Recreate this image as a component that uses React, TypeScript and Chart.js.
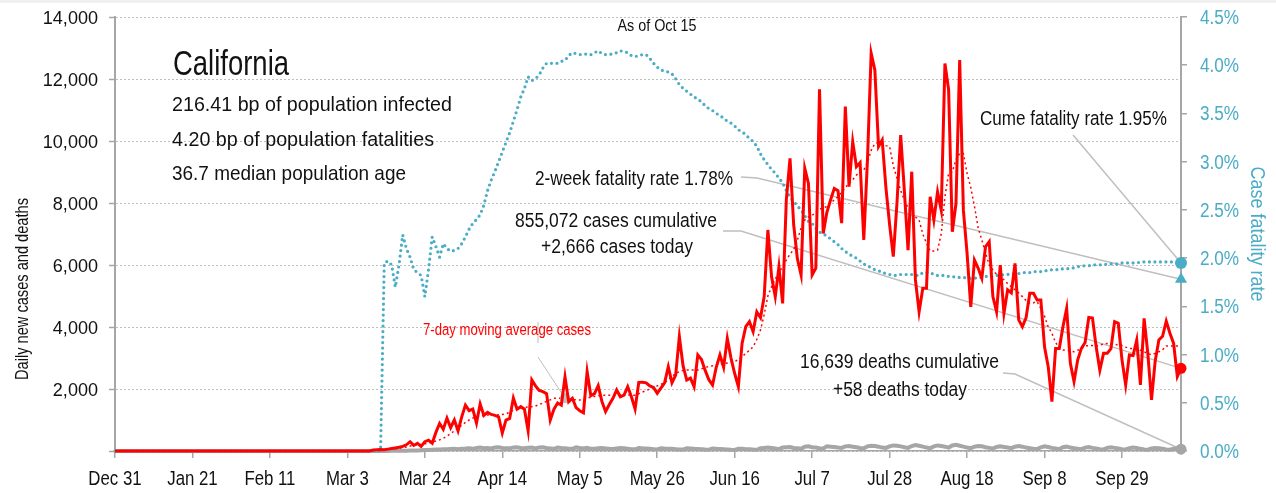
import React, { useEffect, useRef } from 'react';
import { Chart, registerables } from 'chart.js';

Chart.register(...registerables);

const FONT = '"Liberation Sans", Arial, sans-serif';
const TEAL = '#4bacc6';
const RED = '#ff0000';
const GRAY = '#a6a6a6';
const LEADER = '#bfbfbf';
const INK = '#111111';

// Day index 0 = Dec 31, last index 289 = Oct 15
const xTickDays = [0, 21, 42, 63, 84, 105, 126, 147, 168, 189, 210, 231, 252, 273];
const xTickLabels = ['Dec 31', 'Jan 21', 'Feb 11', 'Mar 3', 'Mar 24', 'Apr 14', 'May 5', 'May 26', 'Jun 16', 'Jul 7', 'Jul 28', 'Aug 18', 'Sep 8', 'Sep 29'];
const leftTicks = [0, 2000, 4000, 6000, 8000, 10000, 12000, 14000];
const rightTicks = [0, 0.5, 1, 1.5, 2, 2.5, 3, 3.5, 4, 4.5];

const zeros = (n: number) => Array(n).fill(0);

// Daily new cases (left axis)
const dailyCases = [
  ...zeros(70),
  30, 40, 50, 40, 60, 80, 100, 120, 150, 200,
  300, 180, 250, 150, 300, 350, 250, 600, 890, 700,
  1060, 750, 1000, 650, 1100, 1480, 1300, 1350, 900, 1515,
  1150, 1250, 1180, 1150, 1100, 580, 1000, 1050, 1710, 1350,
  1430, 1350, 655, 2290, 2100, 1950, 1915, 1850, 1000, 1350,
  1550, 1480, 2390, 1590, 1700, 1400, 1300, 1235, 2560, 1785,
  1850, 2110, 1600, 1270, 1500, 1700, 1970, 1750, 1800, 2075,
  1750, 1355, 2215, 2220, 2200, 2100, 2050, 1860, 2030, 2200,
  2720, 2200, 2450, 3690, 2750, 2290, 2350, 2075, 3100, 2950,
  2600, 2300, 2130, 2700, 3100, 2700, 3635, 3000, 2500, 2075,
  3470, 4010, 4170, 3850, 4490, 4300, 4980, 7130, 5620, 4980,
  5945, 4760, 8100, 9440, 7290, 6200, 5680, 9120, 8630, 5680,
  5900, 11670, 7020, 7700, 8100, 8470, 8400, 7350, 11110, 8530,
  9980, 9170, 9300, 6810, 9390, 12830, 12290, 9820, 10030, 8500,
  7300, 6270, 8000, 10190, 8400, 6480, 9010, 5520, 4490, 5250,
  5250, 8200, 7450, 8360, 7770, 12500, 11650, 7070, 7990, 12610,
  7770, 6380, 4650, 6160, 5900, 5570, 6590, 6750, 4980, 4490,
  6000, 4440, 5200, 5100, 6050, 4230, 4010, 4300, 5090, 5090,
  4870, 4870, 3360, 2720, 1590, 3310, 3310, 4010, 4600, 2830,
  2240, 2940, 3310, 3500, 4310, 4290, 3360, 2610, 3150, 3150,
  3300, 4170, 4120, 2940, 2130, 3100, 3080, 3580, 2130, 4280,
  3150, 1650, 2900, 3580, 3700, 4190, 3800, 3470, 2400, 2666,
];

// 7-day moving average of cases (left axis)
const casesMovingAvg = [
  ...zeros(70),
  20, 30, 40, 40, 50, 60, 70, 90, 110, 130,
  160, 180, 190, 210, 230, 260, 290, 320, 360, 410,
  480, 560, 650, 740, 830, 920, 1000, 1060, 1100, 1130,
  1150, 1160, 1160, 1160, 1170, 1180, 1200, 1250, 1320, 1350,
  1380, 1400, 1420, 1430, 1450, 1500, 1550, 1600, 1650, 1700,
  1700, 1700, 1700, 1680, 1660, 1650, 1645, 1660, 1700, 1740,
  1760, 1780, 1800, 1800, 1800, 1800, 1800, 1800, 1800, 1810,
  1800, 1800, 1850, 1900, 1950, 2000, 2050, 2100, 2150, 2200,
  2300, 2400, 2500, 2560, 2600, 2610, 2610, 2610, 2610, 2650,
  2700, 2720, 2750, 2770, 2800, 2820, 2840, 2860, 2880, 2950,
  3040, 3150, 3250, 3360, 3600, 3900, 4400, 5000, 5300, 5550,
  5750, 5950, 6160, 6350, 6500, 6800, 7200, 7450, 7550, 7600,
  7700, 7800, 7850, 7880, 8000, 8100, 8200, 8350, 8500, 8630,
  8750, 8900, 9000, 9060, 9300, 9700, 9920, 9950, 9900, 9850,
  9820, 9200, 8800, 8400, 8100, 7850, 7700, 7550, 7450, 7000,
  6700, 6450, 6450, 6480, 7000, 8200, 8960, 9000, 9400, 9600,
  9600, 8960, 8500, 7900, 7200, 6810, 6400, 6000, 5840, 5700,
  5600, 5520, 5400, 5300, 5200, 5100, 4980, 4850, 4760, 4780,
  4820, 4600, 4350, 4000, 3800, 3500, 3320, 3260, 3250, 3220,
  3200, 3250, 3300, 3390, 3400, 3400, 3390, 3420, 3450, 3470,
  3460, 3440, 3420, 3400, 3350, 3310, 3310, 3300, 3250, 3200,
  3150, 3100, 3150, 3200, 3260, 3390, 3390, 3390, 3390, 3380,
];

// Daily deaths (left axis)
const dailyDeaths = [
  ...zeros(70),
  1, 2, 2, 3, 4, 5, 6, 8, 10, 12,
  15, 18, 20, 25, 30, 35, 40, 45, 50, 55,
  60, 65, 70, 60, 75, 80, 90, 70, 100, 110,
  90, 95, 80, 110, 120, 100, 90, 85, 115, 120,
  95, 90, 105, 110, 80, 115, 120, 100, 85, 70,
  110, 95, 90, 75, 70, 115, 95, 85, 100, 70,
  75, 90, 100, 85, 70, 65, 80, 95, 90, 75,
  60, 55, 95, 85, 80, 70, 60, 50, 90, 80,
  75, 70, 60, 50, 45, 85, 80, 70, 65, 55,
  45, 40, 80, 70, 65, 60, 50, 40, 35, 75,
  70, 60, 55, 45, 40, 90, 100, 110, 95, 80,
  60, 110, 120, 130, 100, 90, 70, 140, 150, 120,
  110, 90, 80, 150, 140, 130, 110, 100, 150, 160,
  140, 120, 100, 90, 150, 170, 160, 140, 110, 100,
  150, 180, 170, 150, 120, 100, 160, 190, 170, 140,
  110, 90, 150, 180, 160, 140, 110, 180, 200, 170,
  140, 110, 90, 140, 160, 150, 120, 100, 80, 130,
  150, 130, 110, 90, 140, 160, 140, 110, 90, 70,
  60, 120, 150, 130, 100, 80, 60, 120, 140, 110,
  90, 70, 60, 110, 130, 100, 80, 60, 50, 100,
  120, 100, 80, 60, 50, 90, 110, 100, 70, 50,
  40, 80, 100, 90, 70, 50, 40, 70, 80, 58,
];

// Cumulative case fatality rate, % (right axis)
const caseFatalityRate = [
  ...zeros(73),
  1.95, 1.97, 1.93, 1.70, 1.93, 2.24, 2.10,
  2.01, 1.88, 1.85, 1.82, 1.60, 1.88, 2.22, 2.12, 2.01, 2.15,
  2.10, 2.07, 2.08, 2.10, 2.15, 2.22, 2.30, 2.36, 2.40, 2.45,
  2.55, 2.70, 2.81, 2.90, 3.00, 3.10, 3.20, 3.30, 3.42, 3.54,
  3.67, 3.76, 3.88, 3.84, 3.86, 3.90, 3.97, 4.02, 4.02, 4.02,
  4.02, 4.04, 4.05, 4.10, 4.13, 4.12, 4.11, 4.11, 4.12, 4.11,
  4.13, 4.15, 4.12, 4.11, 4.11, 4.12, 4.13, 4.15, 4.14, 4.13,
  4.10, 4.09, 4.10, 4.11, 4.11, 4.07, 4.02, 3.98, 3.95, 3.94,
  3.93, 3.91, 3.86, 3.80, 3.76, 3.73, 3.70, 3.67, 3.65, 3.62,
  3.58, 3.55, 3.53, 3.50, 3.48, 3.45, 3.42, 3.40, 3.37, 3.33,
  3.31, 3.28, 3.24, 3.21, 3.16, 3.08, 3.02, 2.97, 2.92, 2.88,
  2.83, 2.78, 2.70, 2.63, 2.59, 2.54, 2.50, 2.44, 2.38, 2.36,
  2.31, 2.27, 2.25, 2.23, 2.20, 2.17, 2.14, 2.10, 2.07, 2.04,
  2.02, 2.00, 1.97, 1.94, 1.92, 1.90, 1.88, 1.87, 1.85, 1.84,
  1.83, 1.82, 1.82, 1.83, 1.83, 1.83, 1.83, 1.82, 1.82, 1.85,
  1.85, 1.85, 1.83, 1.82, 1.82, 1.82, 1.81, 1.81, 1.80, 1.80,
  1.80, 1.79, 1.79, 1.79, 1.80, 1.80, 1.81, 1.81, 1.81, 1.82,
  1.82, 1.83, 1.83, 1.84, 1.84, 1.84, 1.85, 1.85, 1.85, 1.86,
  1.86, 1.86, 1.87, 1.87, 1.88, 1.88, 1.88, 1.89, 1.89, 1.89,
  1.90, 1.91, 1.92, 1.92, 1.92, 1.93, 1.93, 1.93, 1.93, 1.94,
  1.94, 1.94, 1.94, 1.95, 1.95, 1.95, 1.95, 1.95, 1.96, 1.96,
  1.96, 1.96, 1.96, 1.96, 1.96, 1.96, 1.96, 1.96, 1.95, 1.95,
];

const twoWeekFatalityRate = 1.78;
const maMarkerDay = 122;

const stateName = 'California';
const statLines = ['216.41 bp of population infected', '4.20 bp of population fatalities', '36.7 median population age'];
const asOfText = 'As of Oct 15';
const twoWeekText = '2-week fatality rate 1.78%';
const casesText = ['855,072 cases cumulative', '+2,666 cases today'];
const cumeText = 'Cume fatality rate 1.95%';
const deathsText = ['16,639 deaths cumulative', '+58 deaths today'];
const maText = '7-day moving average cases';
const leftTitle = 'Daily new cases and deaths';
const rightTitle = 'Case fatality rate';

const toXY = (arr: number[]) => arr.map((v, i) => ({ x: i, y: v }));
const endOnly = (arr: number[], r: number) => arr.map((_, i) => (i === arr.length - 1 ? r : 0));

// Draw text horizontally squeezed: either to a target width, or by a fixed factor
function drawText(
  ctx: CanvasRenderingContext2D,
  s: string,
  x: number,
  y: number,
  size: number,
  align: 'left' | 'center' | 'right',
  color: string,
  fit: { width?: number; sx?: number }
) {
  ctx.save();
  ctx.font = `${size}px ${FONT}`;
  ctx.fillStyle = color;
  ctx.textAlign = 'left';
  ctx.textBaseline = 'alphabetic';
  const w = ctx.measureText(s).width;
  const sx = fit.width ? fit.width / w : fit.sx ?? 1;
  const drawnW = w * sx;
  let left = x;
  if (align === 'center') left = x - drawnW / 2;
  else if (align === 'right') left = x - drawnW;
  ctx.translate(left, y);
  ctx.scale(sx, 1);
  ctx.fillText(s, 0, 0);
  ctx.restore();
}

export default function App() {
  const ref = useRef<HTMLCanvasElement | null>(null);

  useEffect(() => {
    if (!ref.current) return;
    const lastIdx = dailyCases.length - 1;

    const annot = {
      id: 'annot',
      beforeDraw(chart: any) {
        const ctx = chart.ctx;
        ctx.save();
        ctx.fillStyle = '#ffffff';
        ctx.fillRect(0, 0, chart.width, chart.height);
        ctx.fillStyle = '#f0f0f0';
        ctx.fillRect(0, 0, chart.width, 3);
        ctx.restore();
      },
      beforeDatasetsDraw(chart: any) {
        const ctx = chart.ctx;
        const pt = (dsIdx: number, i: number) => chart.getDatasetMeta(dsIdx).data[i];
        const casesEnd = pt(0, lastIdx);
        const maMark = pt(1, maMarkerDay);
        const deathsEnd = pt(2, lastIdx);
        const cfrEnd = pt(3, lastIdx);
        const triEnd = pt(4, 0);
        ctx.save();
        ctx.strokeStyle = LEADER;
        ctx.lineWidth = 1.5;
        const poly = (pts: number[][]) => {
          ctx.beginPath();
          ctx.moveTo(pts[0][0], pts[0][1]);
          for (let k = 1; k < pts.length; k++) ctx.lineTo(pts[k][0], pts[k][1]);
          ctx.stroke();
        };
        poly([[741, 177], [757, 178], [triEnd.x, triEnd.y]]);
        poly([[723, 231], [741, 231], [casesEnd.x, casesEnd.y]]);
        poly([[1073, 135], [cfrEnd.x, cfrEnd.y]]);
        poly([[1003, 373], [1015, 374], [deathsEnd.x, deathsEnd.y]]);
        ctx.lineWidth = 1;
        poly([[538, 357], [maMark.x, maMark.y]]);
        poly([[538, 322], [538, 343]]);
        ctx.restore();
      },
      afterDraw(chart: any) {
        const ctx = chart.ctx as CanvasRenderingContext2D;
        const xs = chart.scales.x;
        const yl = chart.scales.y;
        const yr = chart.scales.y1;

        // tick labels
        xTickDays.forEach((d, k) => {
          drawText(ctx, xTickLabels[k], xs.getPixelForValue(d), 485, 20.5, 'center', INK, { sx: 0.82 });
        });
        leftTicks.forEach((v) => {
          if (v === 0) return;
          drawText(ctx, v.toLocaleString('en-US'), 98, yl.getPixelForValue(v) + 7, 19, 'right', INK, { sx: 0.95 });
        });
        rightTicks.forEach((v) => {
          drawText(ctx, v.toFixed(1) + '%', 1200, yr.getPixelForValue(v) + 7, 19.5, 'left', TEAL, { sx: 0.88 });
        });

        // annotations
        drawText(ctx, asOfText, 657, 31, 17, 'center', INK, { width: 79 });
        drawText(ctx, stateName, 173, 75, 35, 'left', INK, { width: 116 });
        drawText(ctx, statLines[0], 172, 111, 21, 'left', INK, { width: 280 });
        drawText(ctx, statLines[1], 172, 146, 21, 'left', INK, { width: 262 });
        drawText(ctx, statLines[2], 172, 180, 21, 'left', INK, { width: 234 });
        drawText(ctx, twoWeekText, 733, 185, 20.5, 'right', INK, { width: 198 });
        drawText(ctx, casesText[0], 616, 227, 20.5, 'center', INK, { width: 202 });
        drawText(ctx, casesText[1], 617, 253, 20.5, 'center', INK, { width: 152 });
        drawText(ctx, cumeText, 980, 125, 20.5, 'left', INK, { width: 187 });
        drawText(ctx, deathsText[0], 800, 368, 20.5, 'left', INK, { width: 199 });
        drawText(ctx, deathsText[1], 833, 396, 20.5, 'left', INK, { width: 134 });
        drawText(ctx, maText, 423, 335, 16, 'left', RED, { width: 168 });

        // axis titles
        ctx.save();
        ctx.translate(28, 289);
        ctx.rotate(-Math.PI / 2);
        drawText(ctx, leftTitle, 0, 0, 19, 'center', INK, { width: 182 });
        ctx.restore();
        ctx.save();
        ctx.translate(1251, 234);
        ctx.rotate(Math.PI / 2);
        drawText(ctx, rightTitle, 0, 0, 21, 'center', TEAL, { width: 135 });
        ctx.restore();
      },
    };

    const chart = new Chart(ref.current, {
      type: 'line',
      data: {
        datasets: [
          {
            label: 'Daily new cases',
            data: toXY(dailyCases),
            yAxisID: 'y',
            borderColor: RED,
            backgroundColor: RED,
            borderWidth: 3,
            pointRadius: endOnly(dailyCases, 5.5),
            pointBackgroundColor: RED,
            pointBorderWidth: 0,
            clip: false,
            order: 1,
          },
          {
            label: '7-day moving average cases',
            data: toXY(casesMovingAvg),
            yAxisID: 'y',
            borderColor: RED,
            borderWidth: 1.5,
            borderDash: [2, 3],
            pointRadius: casesMovingAvg.map((_, i) => (i === maMarkerDay ? 5 : 0)),
            pointBackgroundColor: '#c0c0c0',
            pointBorderWidth: 0,
            clip: false,
            order: 2,
          },
          {
            label: 'Daily deaths',
            data: toXY(dailyDeaths),
            yAxisID: 'y',
            borderColor: GRAY,
            backgroundColor: GRAY,
            borderWidth: 4,
            pointRadius: endOnly(dailyDeaths, 5.5),
            pointBackgroundColor: GRAY,
            pointBorderWidth: 0,
            clip: false,
            order: 4,
          },
          {
            label: 'Case fatality rate',
            data: toXY(caseFatalityRate),
            yAxisID: 'y1',
            borderColor: TEAL,
            backgroundColor: TEAL,
            borderWidth: 3.2,
            borderDash: [0, 5.5],
            borderCapStyle: 'round',
            pointRadius: endOnly(caseFatalityRate, 6),
            pointBackgroundColor: TEAL,
            pointBorderWidth: 0,
            clip: false,
            order: 3,
          },
          {
            label: '2-week fatality rate',
            data: [{ x: lastIdx, y: twoWeekFatalityRate }],
            yAxisID: 'y1',
            showLine: false,
            pointStyle: 'triangle',
            pointRadius: 7,
            pointBackgroundColor: TEAL,
            pointBorderColor: TEAL,
            pointBorderWidth: 0,
            clip: false,
            order: 0,
          },
        ],
      },
      options: {
        responsive: false,
        maintainAspectRatio: false,
        animation: false,
        layout: { padding: { top: 17, left: 0, right: 0, bottom: 0 } },
        plugins: { legend: { display: false }, tooltip: { enabled: false } },
        elements: { line: { tension: 0 } },
        scales: {
          x: {
            type: 'linear',
            min: 0,
            max: lastIdx,
            afterBuildTicks: (s: any) => {
              s.ticks = xTickDays.map((v) => ({ value: v }));
            },
            afterFit: (s: any) => {
              s.height = 42;
            },
            ticks: { display: false, autoSkip: false, maxRotation: 0 },
            grid: { drawOnChartArea: false, color: GRAY, tickLength: 7, lineWidth: 1.5 },
            border: { display: true, color: GRAY, width: 1.5 },
          },
          y: {
            position: 'left',
            min: 0,
            max: 14000,
            afterBuildTicks: (s: any) => {
              s.ticks = leftTicks.map((v) => ({ value: v }));
            },
            afterFit: (s: any) => {
              s.width = 115;
            },
            ticks: { display: false },
            grid: {
              color: '#bfbfbf',
              lineWidth: 1,
              tickLength: 6,
              tickColor: GRAY,
              tickWidth: 1.5,
              tickBorderDash: [],
            },
            border: { color: GRAY, width: 2, dash: [2, 2] },
          },
          y1: {
            position: 'right',
            min: 0,
            max: 4.5,
            afterBuildTicks: (s: any) => {
              s.ticks = rightTicks.map((v) => ({ value: v }));
            },
            afterFit: (s: any) => {
              s.width = 95;
            },
            ticks: { display: false },
            grid: { drawOnChartArea: false, color: GRAY, tickLength: 6, lineWidth: 1.5 },
            border: { color: GRAY, width: 2 },
          },
        },
      } as any,
      plugins: [annot],
    });

    return () => chart.destroy();
  }, []);

  return (
    <canvas
      ref={ref}
      width={1276}
      height={493}
      style={{ position: 'fixed', left: 0, top: 0, width: 1276, height: 493 }}
    />
  );
}
